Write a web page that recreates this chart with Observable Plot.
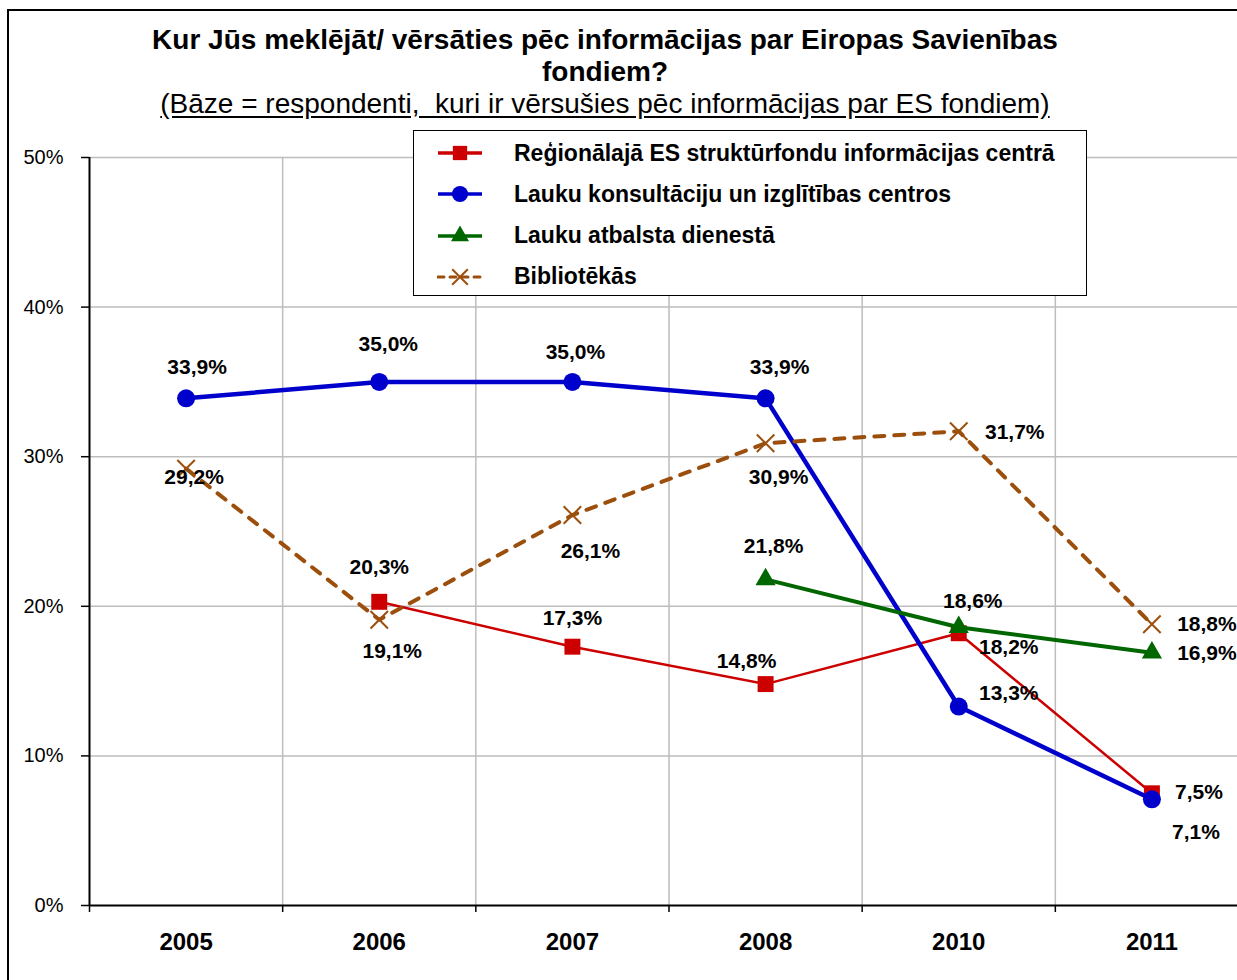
<!DOCTYPE html>
<html>
<head>
<meta charset="utf-8">
<script src="https://cdn.jsdelivr.net/npm/d3@7"></script>
<script src="https://cdn.jsdelivr.net/npm/@observablehq/plot@0.6"></script>
<style>
  html, body { margin: 0; padding: 0; background: #fff; }
  body { width: 1237px; height: 980px; overflow: hidden; position: relative; font-family: "Liberation Sans", Arial, sans-serif; }
  #frame { position: absolute; left: 7px; top: 9px; width: 1300px; height: 1100px; border: 2px solid #000; box-sizing: border-box; }
  #chart { position: absolute; left: 0; top: 0; }
  #title { position: absolute; left: 0; width: 1210px; top: 24px; text-align: center; color: #000; }
  #title .t { font-weight: bold; font-size: 28px; line-height: 32px; }
  #title .s { font-size: 28px; line-height: 32px; text-decoration: underline; text-underline-offset: 3px; }
  #legend { position: absolute; left: 413px; top: 130px; width: 674px; height: 166px; border: 1.5px solid #000; background: #fff; box-sizing: border-box; }
  .row { position: absolute; left: 0; height: 30px; display: flex; align-items: center; }
  .row svg { margin-left: 23px; }
  .row span { margin-left: 31px; font-weight: bold; font-size: 23px; color: #000; white-space: nowrap; }
</style>
</head>
<body>
<div id="chart"></div>
<div id="frame"></div>
<div id="title">
  <div class="t">Kur Jūs meklējāt/ vērsāties pēc informācijas par Eiropas Savienības<br>fondiem?</div>
  <div class="s">(Bāze = respondenti,&nbsp; kuri ir vērsušies pēc informācijas par ES fondiem)</div>
</div>
<div id="legend"></div>
<script>
// ---- data ----
const years = ["2005", "2006", "2007", "2008", "2010", "2011"];
const seriesNames = [
  "Reģionālajā ES struktūrfondu informācijas centrā",
  "Lauku konsultāciju un izglītības  centros",
  "Lauku atbalsta dienestā",
  "Bibliotēkās"
];
const regional  = [null, 20.3, 17.3, 14.8, 18.2, 7.5];
const consult   = [33.9, 35.0, 35.0, 33.9, 13.3, 7.1];
const support   = [null, null, null, 21.8, 18.6, 16.9];
const libraries = [29.2, 19.1, 26.1, 30.9, 31.7, 18.8];
const yTicks = [0, 10, 20, 30, 40, 50];

// ---- styling / layout config ----
const seriesStyle = [
  {values: regional,  color: "#cc0000", width: 2.5, symbol: "square",   r: 9,   dash: null},
  {values: consult,   color: "#0000cc", width: 4.5, symbol: "circle",   r: 9,   dash: null},
  {values: support,   color: "#006600", width: 4,   symbol: "triangle", r: 7.5, dash: null},
  {values: libraries, color: "#9c4f0c", width: 4,   symbol: "times",    r: 8,   dash: "10,10"}
];
const labelOffsets = [
  [null, [0, -35], [0, -28], [-19, -23], [50, 14], [47, -1]],
  [[11, -31], [9, -38], [3, -30], [14, -31], [50, -13], [44, 33]],
  [null, null, null, [8, -33], [14, -26], [55, 1]],
  [[8, 9], [13, 32], [18, 36], [13, 34], [56, 1], [55, 0]]
];

const fmt = v => v.toFixed(1).replace(".", ",") + "%";

const rowsFor = s => seriesStyle[s].values
  .map((v, i) => ({i, v, s}))
  .filter(d => d.v != null);

const marks = [];
// grid
marks.push(Plot.ruleY(yTicks.filter(d => d > 0), {stroke: "#bdbdbd", strokeWidth: 1.5}));
marks.push(Plot.ruleX(d3.range(0.5, years.length - 1, 1), {y1: 0, y2: 50, stroke: "#bdbdbd", strokeWidth: 1.5}));
// axes
marks.push(Plot.axisY({ticks: yTicks, label: null, tickSize: 8, tickPadding: 18, tickFormat: d => d + "%", fontSize: 20, strokeWidth: 1.5, color: "#000"}));
marks.push(Plot.axisX({ticks: d3.range(-0.5, years.length, 1), label: null, tickSize: 7, tickFormat: () => "", strokeWidth: 1.5, color: "#000"}));
marks.push(Plot.axisX({ticks: d3.range(years.length), label: null, tickSize: 0, tickPadding: 27, tickFormat: i => years[i], fontSize: 24, fontWeight: "bold", color: "#000"}));
marks.push(Plot.ruleX([-0.5], {stroke: "#000", strokeWidth: 2}));
marks.push(Plot.ruleY([0], {stroke: "#000", strokeWidth: 2}));

// series
seriesStyle.forEach((st, s) => {
  const rows = rowsFor(s);
  marks.push(Plot.line(rows, {x: "i", y: "v", stroke: st.color, strokeWidth: st.width,
    strokeDasharray: st.dash, strokeLinecap: st.dash ? "round" : "butt", strokeLinejoin: "round"}));
  if (st.symbol === "times") {
    marks.push(Plot.dot(rows, {x: "i", y: "v", symbol: "times", r: st.r, stroke: st.color, strokeWidth: 2}));
  } else {
    marks.push(Plot.dot(rows, {x: "i", y: "v", symbol: st.symbol, r: st.r, fill: st.color, stroke: "none"}));
  }
});
// labels
seriesStyle.forEach((st, s) => {
  rowsFor(s).forEach(d => {
    const [dx, dy] = labelOffsets[s][d.i];
    marks.push(Plot.text([d], {x: "i", y: "v", text: r => fmt(r.v), dx, dy,
      fontSize: 21, fontWeight: "bold", fill: "#000", textAnchor: "middle", lineAnchor: "middle"}));
  });
});

const chart = Plot.plot({
  width: 1237,
  height: 980,
  marginLeft: 89,
  marginRight: -11,
  marginTop: 157,
  marginBottom: 75,
  x: {type: "linear", domain: [-0.5, years.length - 0.5], axis: null},
  y: {domain: [0, 50], axis: null},
  style: {fontFamily: "'Liberation Sans', Arial, sans-serif", background: "transparent", overflow: "hidden"},
  marks
});
document.getElementById("chart").appendChild(chart);

// legend
const legend = document.getElementById("legend");
seriesStyle.forEach((st, s) => {
  const row = document.createElement("div");
  row.className = "row";
  row.style.top = (7 + s * 41.3) + "px";
  const svg = d3.create("svg").attr("width", 46).attr("height", 24);
  svg.append("line").attr("x1", 1).attr("x2", 45).attr("y1", 12).attr("y2", 12)
    .attr("stroke", st.color).attr("stroke-width", st.dash ? 3 : 3.5)
    .attr("stroke-dasharray", st.dash ? "6,6" : null).attr("stroke-linecap", st.dash ? "round" : "butt");
  const size = Math.PI * st.r * st.r * 0.8;
  const symType = {square: d3.symbolSquare, circle: d3.symbolCircle, triangle: d3.symbolTriangle, times: d3.symbolTimes}[st.symbol];
  const p = svg.append("path").attr("transform", "translate(23,12)").attr("d", d3.symbol(symType, size)());
  if (st.symbol === "times") p.attr("fill", "none").attr("stroke", st.color).attr("stroke-width", 2);
  else p.attr("fill", st.color);
  row.appendChild(svg.node());
  const span = document.createElement("span");
  span.textContent = seriesNames[s];
  row.appendChild(span);
  legend.appendChild(row);
});
</script>
</body>
</html>
